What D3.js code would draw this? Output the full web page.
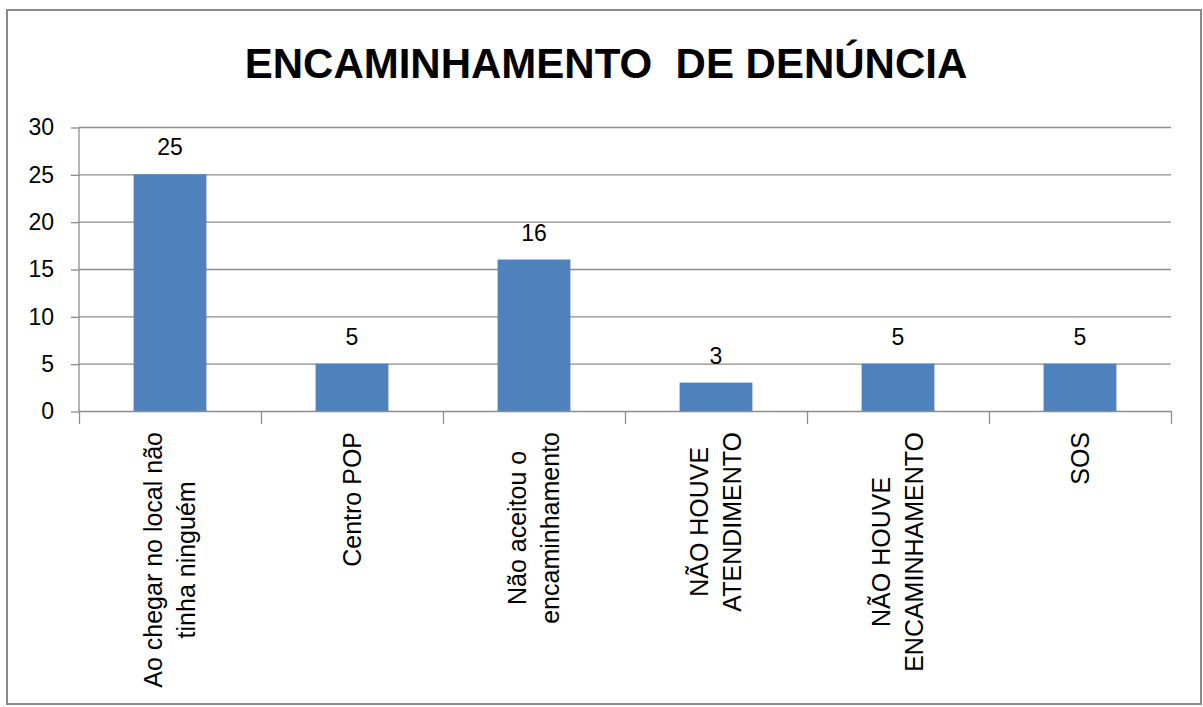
<!DOCTYPE html>
<html>
<head>
<meta charset="utf-8">
<script src="https://cdn.jsdelivr.net/npm/d3@7"></script>
<style>
  body { margin: 0; background: #fff; }
  text { font-family: "Liberation Sans", Arial, sans-serif; fill: #000; }
</style>
</head>
<body>
<svg id="chart" width="1203" height="707"></svg>
<script>
// data
var categories = [
    ["Ao chegar no local não", "tinha ninguém"],
    ["Centro POP"],
    ["Não aceitou o", "encaminhamento"],
    ["NÃO HOUVE", "ATENDIMENTO"],
    ["NÃO HOUVE", "ENCAMINHAMENTO"],
    ["SOS"]
];
var values = [25, 5, 16, 3, 5, 5];
var yTicks = [0, 5, 10, 15, 20, 25, 30];
var title = "ENCAMINHAMENTO\u00a0 DE DENÚNCIA";

var svg = d3.select("#chart"),
    plotLeft = 79, plotRight = 1171, plotTop = 127, plotBottom = 411;

// outer frame
svg.append("rect")
    .attr("x", 7).attr("y", 10)
    .attr("width", 1194).attr("height", 694)
    .attr("fill", "none")
    .attr("stroke", "#8a8a8a")
    .attr("stroke-width", 2);

svg.append("text")
    .attr("x", 606).attr("y", 78)
    .attr("text-anchor", "middle")
    .style("font-size", "42px")
    .style("font-weight", "bold")
    .text(title);

var x = d3.scaleBand()
    .domain(d3.range(categories.length))
    .range([plotLeft, plotRight])
    .paddingInner(0.6)
    .paddingOuter(0.3);

var xb = d3.scaleBand()
    .domain(d3.range(categories.length))
    .range([plotLeft, plotRight]);

var y = d3.scaleLinear()
    .domain([0, 30])
    .range([plotBottom, plotTop]);

// gridlines
svg.append("g")
    .selectAll("line")
    .data(yTicks.filter(function (d) { return d > 0; }))
    .join("line")
    .attr("x1", plotLeft).attr("x2", plotRight)
    .attr("y1", function (d) { return y(d) + 0.5; })
    .attr("y2", function (d) { return y(d) + 0.5; })
    .attr("stroke", "#8c8c8c")
    .attr("stroke-width", 1.3);

// y axis
var yAxis = svg.append("g")
    .attr("transform", "translate(" + plotLeft + ",0.5)")
    .call(d3.axisLeft(y).tickValues(yTicks).tickSize(8).tickPadding(17));
yAxis.selectAll("line, path").attr("stroke", "#8c8c8c").attr("stroke-width", 1.3);
yAxis.select(".domain").attr("d", "M0," + plotTop + "V" + plotBottom);
yAxis.selectAll("text")
    .style("font-size", "23px")
    .style("font-family", "Liberation Sans, Arial, sans-serif")
    .attr("fill", "#000");

// bars
svg.append("g")
    .selectAll("rect")
    .data(values)
    .join("rect")
    .attr("x", function (d, i) { return x(i); })
    .attr("y", function (d) { return y(d); })
    .attr("width", x.bandwidth())
    .attr("height", function (d) { return y(0) - y(d); })
    .attr("fill", "#4f81bd");

// value labels
svg.append("g")
    .selectAll("text")
    .data(values)
    .join("text")
    .attr("x", function (d, i) { return x(i) + x.bandwidth() / 2; })
    .attr("y", function (d) { return y(d) - 19; })
    .attr("text-anchor", "middle")
    .style("font-size", "23px")
    .text(function (d) { return d; });

// x axis
var xAxis = svg.append("g");
xAxis.append("line")
    .attr("x1", plotLeft).attr("x2", plotRight)
    .attr("y1", plotBottom + 0.5).attr("y2", plotBottom + 0.5)
    .attr("stroke", "#8c8c8c").attr("stroke-width", 1.3);
xAxis.selectAll("line.tick")
    .data(d3.range(categories.length + 1))
    .join("line")
    .attr("class", "tick")
    .attr("x1", function (i) { return plotLeft + i * xb.bandwidth() + 0.5; })
    .attr("x2", function (i) { return plotLeft + i * xb.bandwidth() + 0.5; })
    .attr("y1", plotBottom).attr("y2", plotBottom + 13)
    .attr("stroke", "#8c8c8c").attr("stroke-width", 1.3);

// category labels, rotated, ending at the top
var labels = svg.append("g")
    .selectAll("g")
    .data(categories)
    .join("g");

labels.each(function (lines, i) {
    var g = d3.select(this);
    var t = g.append("text")
        .attr("text-anchor", "middle")
        .style("font-size", "25px");
    t.selectAll("tspan")
        .data(lines)
        .join("tspan")
        .attr("x", 0)
        .attr("y", function (d, j) { return (j - (lines.length - 1) / 2) * 33; })
        .attr("dy", "0.35em")
        .text(function (d) { return d; });
    var maxW = d3.max(t.selectAll("tspan").nodes(), function (n) { return n.getComputedTextLength(); });
    var cx = xb(i) + xb.bandwidth() / 2;
    g.attr("transform", "translate(" + cx + "," + (432 + maxW / 2) + ") rotate(-90)");
});
</script>
</body>
</html>
